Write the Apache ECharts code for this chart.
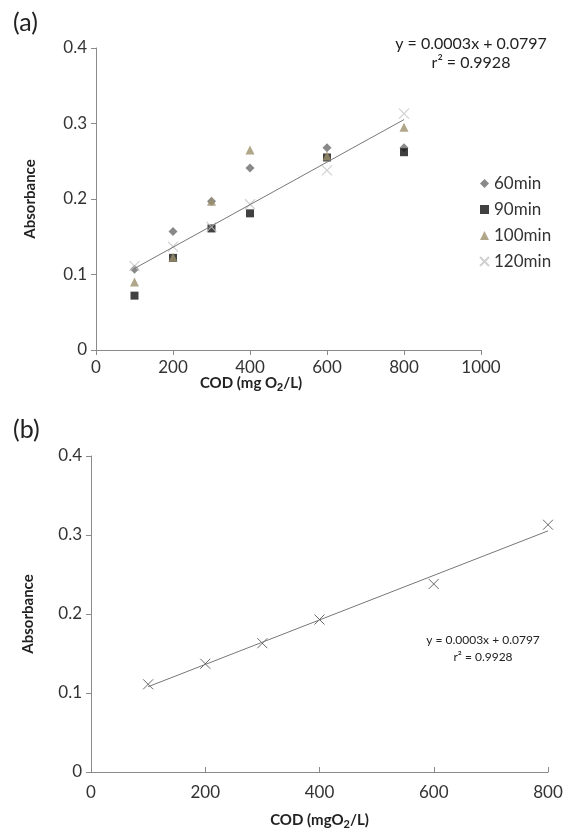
<!DOCTYPE html>
<html>
<head>
<meta charset="utf-8">
<script src="https://cdn.jsdelivr.net/npm/echarts@6/dist/echarts.min.js"></script>
<style>
  html, body { margin: 0; padding: 0; background: #fff; }
  #chart { width: 566px; height: 832px; }
</style>
</head>
<body>
<div id="chart"></div>
<script>
// COD concentrations (mg O2/L)
const cod = [100, 200, 300, 400, 600, 800]

// absorbance at each reaction time
const abs60 = [0.107, 0.157, 0.197, 0.241, 0.268, 0.268]
const abs90 = [0.072, 0.122, 0.161, 0.181, 0.255, 0.262]
const abs100 = [0.090, 0.123, 0.197, 0.265, 0.257, 0.295]
const abs120 = [0.111, 0.137, 0.163, 0.193, 0.238, 0.313]

const seriesNames = ['60min', '90min', '100min', '120min']
const xTicksA = [0, 200, 400, 600, 800, 1000]
const xTicksB = [0, 200, 400, 600, 800]

const eqText = 'y = 0.0003x + 0.0797'
const r2Text = 'r² = 0.9928'

const FONT = 'Lato, "Open Sans", sans-serif'
const CROSS = 'path://M0,0L10,10M0,10L10,0'

function pairs(xs, ys) {
  return xs.map((x, i) => [x, ys[i]])
}

// least squares fit of the 120 min series
function fit(xs, ys) {
  const n = xs.length
  const mx = xs.reduce((a, b) => a + b, 0) / n
  const my = ys.reduce((a, b) => a + b, 0) / n
  let sxy = 0, sxx = 0
  xs.forEach((x, i) => {
    sxy += (x - mx) * (ys[i] - my)
    sxx += (x - mx) * (x - mx)
  })
  const k = sxy / sxx
  return {k, b: my - k * mx}
}

const line = fit(cod, abs120)
const xMin = Math.min(...cod), xMax = Math.max(...cod)
const trend = [[xMin, line.k * xMin + line.b], [xMax, line.k * xMax + line.b]]

const axisLine = {show: true, lineStyle: {color: '#8a8a8a', width: 1}}
const labelStyle = {color: '#333', fontSize: 17, fontFamily: FONT}
const tickStyle = {lineStyle: {color: '#8a8a8a'}}

function yAxis(gridIndex, gap) {
  return {
    gridIndex,
    type: 'value',
    min: 0,
    max: 0.4,
    interval: 0.1,
    name: 'Absorbance',
    nameLocation: 'middle',
    nameRotate: 90,
    nameGap: gap,
    nameTextStyle: {color: '#222', fontSize: 15, fontWeight: 'bold', fontFamily: FONT},
    axisLine,
    axisTick: Object.assign({show: true, length: 5}, tickStyle),
    axisLabel: Object.assign({margin: 9, formatter: v => (v === 0 ? '0' : v.toFixed(1))}, labelStyle),
    splitLine: {show: false},
  }
}

const chart = echarts.init(document.getElementById('chart'))
chart.setOption({
  animation: false,
  textStyle: {fontFamily: FONT},
  grid: [
    {left: 96, top: 48, width: 385, height: 302},
    {left: 91, top: 456, width: 457, height: 316},
  ],
  xAxis: [
    {
      gridIndex: 0,
      type: 'value',
      min: xTicksA[0],
      max: xTicksA[xTicksA.length - 1],
      interval: 200,
      axisLine,
      axisTick: Object.assign({show: true, length: 5}, tickStyle),
      axisLabel: Object.assign({margin: 9, formatter: v => String(v)}, labelStyle),
      splitLine: {show: false},
    },
    {
      gridIndex: 1,
      type: 'value',
      min: xTicksB[0],
      max: xTicksB[xTicksB.length - 1],
      interval: 200,
      name: 'COD (mgO{sub|2}/L)',
      nameLocation: 'middle',
      nameGap: 38,
      nameTextStyle: {
        color: '#222', fontSize: 15, fontWeight: 'bold', fontFamily: FONT,
        rich: {sub: {fontSize: 11, fontWeight: 'bold', color: '#222', padding: [9, 0, 0, 0]}},
      },
      axisLine,
      axisTick: Object.assign({show: true, inside: true, length: 5}, tickStyle),
      axisLabel: Object.assign({margin: 12, formatter: v => String(v)}, labelStyle),
      splitLine: {show: false},
    },
  ],
  yAxis: [yAxis(0, 58), yAxis(1, 55)],
  legend: {
    data: seriesNames,
    orient: 'vertical',
    left: 474,
    top: 170,
    itemWidth: 9,
    itemHeight: 9,
    itemGap: 9,
    textStyle: {color: '#333', fontSize: 17, fontFamily: FONT},
  },
  series: [
    {
      name: 'trend-a', type: 'line', xAxisIndex: 0, yAxisIndex: 0,
      data: trend, symbol: 'none', silent: true,
      lineStyle: {color: '#777', width: 1},
    },
    {
      name: '60min', type: 'scatter', xAxisIndex: 0, yAxisIndex: 0,
      data: pairs(cod, abs60), symbol: 'diamond', symbolSize: 9,
      itemStyle: {color: '#6b6b6b'},
    },
    {
      name: '90min', type: 'scatter', xAxisIndex: 0, yAxisIndex: 0,
      data: pairs(cod, abs90), symbol: 'rect', symbolSize: 8,
      itemStyle: {color: '#111'},
    },
    {
      name: '100min', type: 'scatter', xAxisIndex: 0, yAxisIndex: 0,
      data: pairs(cod, abs100), symbol: 'triangle', symbolSize: 9,
      itemStyle: {color: '#9c906c'},
    },
    {
      name: '120min', type: 'scatter', xAxisIndex: 0, yAxisIndex: 0,
      data: pairs(cod, abs120), symbol: CROSS, symbolSize: 10,
      itemStyle: {color: 'transparent', borderColor: '#c4c4c4', borderWidth: 1.2},
    },
    {
      name: 'trend-b', type: 'line', xAxisIndex: 1, yAxisIndex: 1,
      data: trend, symbol: 'none', silent: true,
      lineStyle: {color: '#777', width: 1},
    },
    {
      name: '120min-b', type: 'scatter', xAxisIndex: 1, yAxisIndex: 1,
      data: pairs(cod, abs120), symbol: CROSS, symbolSize: 10,
      itemStyle: {color: 'transparent', borderColor: '#444', borderWidth: 1},
    },
  ],
  graphic: [
    {type: 'text', left: 13, top: 10, style: {text: '(a)', fontSize: 25, fill: '#222', fontFamily: FONT}},
    {type: 'text', left: 13, top: 417, style: {text: '(b)', fontSize: 25, fill: '#222', fontFamily: FONT}},
    {
      type: 'text', x: 251, y: 383,
      style: {
        text: 'COD (mg O{sub|2}/L)', fill: '#222', fontSize: 15, fontWeight: 'bold', fontFamily: FONT,
        align: 'center', verticalAlign: 'middle',
        rich: {sub: {fontSize: 11, fontWeight: 'bold', fill: '#222', padding: [9, 0, 0, 0]}},
      },
    },
    {type: 'text', x: 471, y: 44, style: {text: eqText, fontSize: 16, fill: '#222', fontFamily: FONT, align: 'center', verticalAlign: 'middle'}},
    {type: 'text', x: 471, y: 63, style: {text: r2Text, fontSize: 16, fill: '#222', fontFamily: FONT, align: 'center', verticalAlign: 'middle'}},
    {type: 'text', x: 483, y: 640, style: {text: eqText, fontSize: 12, fill: '#222', fontFamily: FONT, align: 'center', verticalAlign: 'middle'}},
    {type: 'text', x: 483, y: 657, style: {text: r2Text, fontSize: 12, fill: '#222', fontFamily: FONT, align: 'center', verticalAlign: 'middle'}},
  ],
})
</script>
</body>
</html>
